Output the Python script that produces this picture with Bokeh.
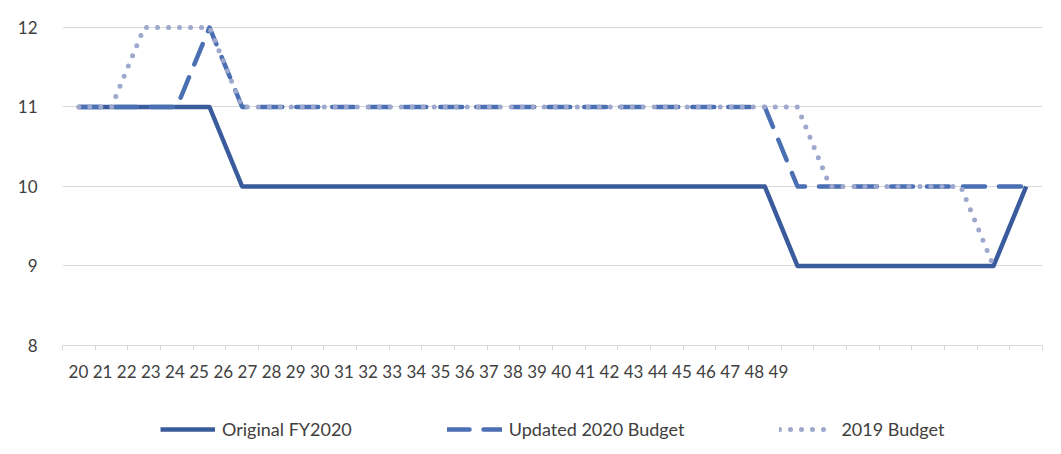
from bokeh.plotting import figure
from bokeh.models import (Range1d, LinearAxis, FixedTicker, Legend, LegendItem,
                          ColumnDataSource)
from bokeh.layouts import column
from bokeh.embed import file_html
from bokeh.resources import INLINE

# ---- data ----
tick_labels = list(range(20, 50))
original_fy2020 = [11, 11, 11, 11, 11, 10, 10, 10, 10, 10, 10, 10, 10, 10, 10,
                   10, 10, 10, 10, 10, 10, 10, 9, 9, 9, 9, 9, 9, 9, 10]
updated_2020 = [11, 11, 11, 11, 12, 11, 11, 11, 11, 11, 11, 11, 11, 11, 11,
                11, 11, 11, 11, 11, 11, 11, 10, 10, 10, 10, 10, 10, 10, 10]
budget_2019 = [11, 11, 12, 12, 12, 11, 11, 11, 11, 11, 11, 11, 11, 11, 11,
               11, 11, 11, 11, 11, 11, 11, 11, 10, 10, 10, 10, 10, 9, float("nan")]
series_names = ["Original FY2020", "Updated 2020 Budget", "2019 Budget"]
y_ticks = [8, 9, 10, 11, 12]

n = len(original_fy2020)
xs = [i + 0.5 for i in range(n)]

FONT = "Lato"
TXT = "#404040"
C_SOLID = "#3b5c9c"
C_DASH = "#4a6fb3"
C_DOT = "#9ea8cc"
styles = [dict(line_color=C_SOLID, line_width=4.5, line_join="round"),
          dict(line_color=C_DASH, line_width=4.5, line_dash="22 14",
               line_cap="round", line_join="round"),
          dict(line_color=C_DOT, line_width=5, line_dash="0 11",
               line_cap="round", line_join="round")]

p = figure(frame_width=980, frame_height=322, output_backend="svg",
           toolbar_location=None,
           x_range=Range1d(0, n), y_range=Range1d(8, 12.05),
           x_axis_location=None, min_border_left=62, min_border_right=19,
           min_border_top=23, min_border_bottom=55)
p.outline_line_color = None
p.background_fill_color = "white"
p.border_fill_color = "white"

# y axis
p.yaxis.ticker = FixedTicker(ticks=y_ticks)
p.yaxis.axis_line_color = None
p.yaxis.major_tick_line_color = None
p.yaxis.minor_tick_line_color = None
p.yaxis.major_label_text_font = FONT
p.yaxis.major_label_text_font_size = "17px"
p.yaxis.major_label_text_color = TXT
p.yaxis.major_label_standoff = 19

p.ygrid.ticker = FixedTicker(ticks=[9, 10, 11, 12])
p.ygrid.grid_line_color = "#d9d9d9"
p.ygrid.grid_line_width = 1
p.xgrid.visible = False

# x axis with category boundary ticks (no labels)
bounds = list(range(n + 1))
tick_axis = LinearAxis(ticker=FixedTicker(ticks=bounds),
                       major_label_overrides={b: "" for b in bounds})
tick_axis.axis_line_color = "#d9d9d9"
tick_axis.major_tick_line_color = "#d9d9d9"
tick_axis.major_tick_out = 5
tick_axis.major_tick_in = 0
tick_axis.minor_tick_line_color = None
tick_axis.major_label_standoff = 0
tick_axis.major_label_text_font_size = "1px"
p.add_layout(tick_axis, "below")

# label axis (labels squeezed toward the left as in reference)
p.extra_x_ranges = {"lab": Range1d(19.34, 59.94)}
lab_axis = LinearAxis(x_range_name="lab", ticker=FixedTicker(ticks=tick_labels))
lab_axis.axis_line_color = None
lab_axis.major_tick_line_color = None
lab_axis.minor_tick_line_color = None
lab_axis.major_tick_out = 0
lab_axis.major_label_text_font = FONT
lab_axis.major_label_text_font_size = "17px"
lab_axis.major_label_text_color = TXT
lab_axis.major_label_standoff = 14
p.add_layout(lab_axis, "below")

src = ColumnDataSource(dict(x=xs, a=original_fy2020, b=updated_2020, c=budget_2019))
for col, st in zip(["a", "b", "c"], styles):
    p.line("x", col, source=src, **st)

# legend strip below the chart (series drawn outside its visible range,
# only the legend samples show)
lf = figure(frame_width=1061, frame_height=54, output_backend="svg",
            toolbar_location=None, x_range=Range1d(-2, -1), y_range=Range1d(0, 1),
            x_axis_location=None, y_axis_location=None,
            min_border_left=0, min_border_right=0, min_border_top=0,
            min_border_bottom=0)
lf.outline_line_color = None
lf.xgrid.visible = False
lf.ygrid.visible = False
items = []
for name, col, st in zip(series_names, ["a", "b", "c"], styles):
    r = lf.line("x", col, source=src, **st)
    items.append(LegendItem(label=name, renderers=[r]))

legend = Legend(items=items, orientation="horizontal", location=(160, 14))
legend.glyph_width = 55
legend.glyph_height = 20
legend.label_standoff = 7
legend.spacing = 95
legend.padding = 0
legend.margin = 0
legend.border_line_color = None
legend.background_fill_alpha = 0
legend.label_text_font = FONT
legend.label_text_font_size = "18px"
legend.label_text_color = TXT
lf.add_layout(legend, "center")

layout = column(p, lf, spacing=0)
open("out.html", "w").write(file_html(layout, INLINE))
